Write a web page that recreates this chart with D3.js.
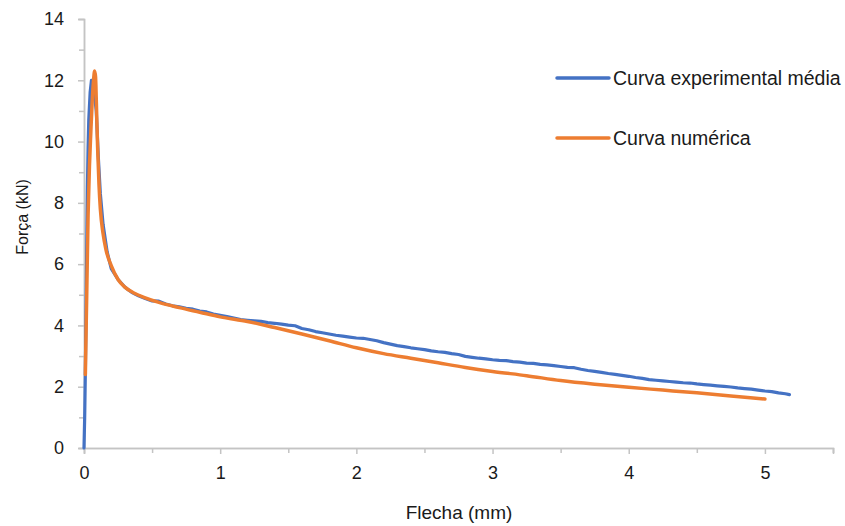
<!DOCTYPE html>
<html>
<head>
<meta charset="utf-8">
<script src="https://cdn.jsdelivr.net/npm/d3@7"></script>
<style>
  html, body { margin: 0; padding: 0; background: #fff; }
  svg { display: block; }
  text { font-family: "Liberation Sans", Arial, sans-serif; fill: #1a1a1a; }
</style>
</head>
<body>
<svg id="chart" width="845" height="526"></svg>
<script>
// Force vs deflection: averaged experimental curve and numerical model
const seriesNames = ["Curva experimental média", "Curva numérica"];
const seriesColors = ["#4472C4", "#ED7D31"];

const expX = [0, 0.005, 0.01, 0.015, 0.02, 0.025, 0.03, 0.035, 0.045, 0.055, 0.065, 0.075, 0.09, 0.105, 0.12, 0.14, 0.17, 0.2, 0.25, 0.3, 0.35, 0.4, 0.45,
  0.50, 0.55, 0.60, 0.65, 0.70, 0.75, 0.80, 0.85, 0.90, 0.95, 1.00, 1.05, 1.10, 1.15, 1.20, 1.25, 1.30, 1.35, 1.40, 1.45,
  1.50, 1.55, 1.60, 1.65, 1.70, 1.75, 1.80, 1.85, 1.90, 1.95, 2.00, 2.05, 2.10, 2.15, 2.20, 2.25, 2.30, 2.35, 2.40, 2.45,
  2.50, 2.55, 2.60, 2.65, 2.70, 2.75, 2.80, 2.85, 2.90, 2.95, 3.00, 3.05, 3.10, 3.15, 3.20, 3.25, 3.30, 3.35, 3.40, 3.45,
  3.50, 3.55, 3.60, 3.65, 3.70, 3.75, 3.80, 3.85, 3.90, 3.95, 4.00, 4.05, 4.10, 4.15, 4.20, 4.25, 4.30, 4.35, 4.40, 4.45,
  4.50, 4.55, 4.60, 4.65, 4.70, 4.75, 4.80, 4.85, 4.90, 4.95, 5.00, 5.05, 5.10, 5.15, 5.18];
const expY = [0, 1.0, 2.5, 4.5, 6.5, 8.5, 9.8, 10.7, 11.6, 12.0, 11.9, 11.6, 11.0, 9.5, 8.3, 7.3, 6.4, 5.85, 5.5, 5.25, 5.08, 4.97, 4.88,
  4.80, 4.79, 4.70, 4.64, 4.61, 4.56, 4.53, 4.47, 4.44, 4.37, 4.33, 4.29, 4.24, 4.19, 4.17, 4.15, 4.13, 4.09, 4.07, 4.04,
  4.01, 3.99, 3.90, 3.86, 3.80, 3.76, 3.72, 3.68, 3.65, 3.62, 3.59, 3.58, 3.54, 3.50, 3.44, 3.39, 3.34, 3.31, 3.27, 3.24,
  3.21, 3.17, 3.14, 3.12, 3.08, 3.05, 2.99, 2.96, 2.93, 2.91, 2.88, 2.86, 2.85, 2.82, 2.80, 2.77, 2.76, 2.73, 2.71, 2.69,
  2.66, 2.63, 2.62, 2.57, 2.53, 2.50, 2.47, 2.43, 2.40, 2.37, 2.34, 2.30, 2.27, 2.23, 2.21, 2.19, 2.17, 2.15, 2.13, 2.12,
  2.09, 2.07, 2.05, 2.03, 2.01, 1.99, 1.96, 1.94, 1.92, 1.89, 1.86, 1.84, 1.80, 1.77, 1.74];

const numX = [0.01, 0.02, 0.03, 0.04, 0.05, 0.06, 0.07, 0.078, 0.085, 0.09, 0.1, 0.11, 0.12, 0.14, 0.16, 0.2, 0.25, 0.3, 0.37, 0.45, 0.55, 0.7, 0.85,
  1.0, 1.2, 1.4, 1.6, 1.8, 2.0, 2.2, 2.4, 2.6, 2.8, 3.0, 3.25, 3.5, 3.75, 4.0, 4.25, 4.5, 4.75, 5.0];
const numY = [2.4, 5.0, 7.6, 9.2, 10.3, 11.3, 12.0, 12.3, 12.1, 11.4, 9.8, 8.6, 7.8, 7.0, 6.5, 5.95, 5.5, 5.25, 5.05, 4.9, 4.75, 4.58, 4.43,
  4.28, 4.13, 3.93, 3.72, 3.5, 3.27, 3.08, 2.93, 2.78, 2.63, 2.5, 2.36, 2.2, 2.08, 1.98, 1.89, 1.8, 1.7, 1.6];

const xTicks = [0, 1, 2, 3, 4, 5];
const yTicks = [0, 2, 4, 6, 8, 10, 12, 14];
const xMinor = [0.5, 1.5, 2.5, 3.5, 4.5, 5.5];
const yMinor = [1, 3, 5, 7, 9, 11, 13];

const svg = d3.select("#chart");
const x = d3.scaleLinear().domain([0, 5.5]).range([84, 833]);
const y = d3.scaleLinear().domain([0, 14]).range([448, 19]);
const axisColor = "#c4c4c4";

// minor ticks
const gx = svg.append("g").attr("transform", `translate(0,${y(0)})`);
gx.call(d3.axisBottom(x).tickValues(xMinor).tickSize(5).tickFormat(""));
const gy = svg.append("g").attr("transform", `translate(${x(0)},0)`);
gy.call(d3.axisLeft(y).tickValues(yMinor).tickSize(5).tickFormat(""));

// major ticks with labels
const gx2 = svg.append("g").attr("transform", `translate(0,${y(0)})`);
gx2.call(d3.axisBottom(x).tickValues(xTicks).tickSize(6).tickPadding(12).tickFormat(d3.format("d")));
const gy2 = svg.append("g").attr("transform", `translate(${x(0)},0)`);
gy2.call(d3.axisLeft(y).tickValues(yTicks).tickSize(6).tickPadding(14).tickFormat(d3.format("d")));

[gx, gy, gx2, gy2].forEach(g => {
  g.selectAll(".domain").attr("stroke", axisColor).attr("stroke-width", 1.5);
  g.selectAll(".tick line").attr("stroke", axisColor).attr("stroke-width", 1.5);
  g.selectAll(".tick text").attr("font-size", 18).attr("fill", "#1a1a1a")
    .attr("font-family", "'Liberation Sans', Arial, sans-serif");
});

// curves
const expData = expX.map((v, i) => [v, expY[i]]);
const numData = numX.map((v, i) => [v, numY[i]]);

svg.append("path").datum(expData)
  .attr("fill", "none").attr("stroke", seriesColors[0]).attr("stroke-width", 3.2)
  .attr("stroke-linejoin", "round").attr("stroke-linecap", "round")
  .attr("d", d3.line().x(d => x(d[0])).y(d => y(d[1])));

svg.append("path").datum(numData)
  .attr("fill", "none").attr("stroke", seriesColors[1]).attr("stroke-width", 3.5)
  .attr("stroke-linejoin", "round").attr("stroke-linecap", "round")
  .attr("d", d3.line().curve(d3.curveMonotoneX).x(d => x(d[0])).y(d => y(d[1])));

// axis titles
svg.append("text").attr("x", 459).attr("y", 519).attr("text-anchor", "middle")
  .attr("font-size", 19).text("Flecha (mm)");
svg.append("text").attr("transform", "translate(28,217) rotate(-90)").attr("text-anchor", "middle")
  .attr("font-size", 16).text("Força (kN)");

// legend
const legendY = [78, 138];
seriesNames.forEach((name, i) => {
  svg.append("line").attr("x1", 557).attr("x2", 609).attr("y1", legendY[i]).attr("y2", legendY[i])
    .attr("stroke", seriesColors[i]).attr("stroke-width", 3.5).attr("stroke-linecap", "round");
  svg.append("text").attr("x", 613).attr("y", legendY[i] + 7).attr("font-size", 19.5).text(name);
});
</script>
</body>
</html>
